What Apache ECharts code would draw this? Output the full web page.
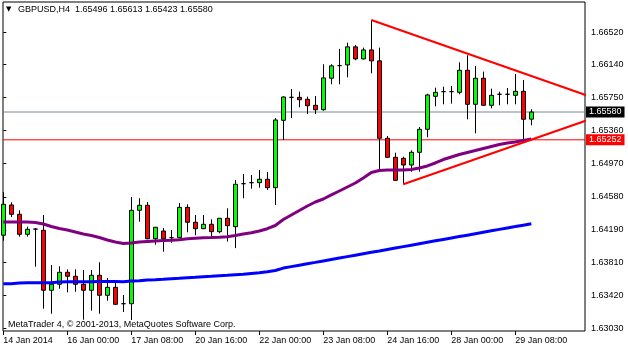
<!DOCTYPE html>
<html><head><meta charset="utf-8">
<script src="https://cdn.jsdelivr.net/npm/echarts@6/dist/echarts.min.js"></script>
<style>html,body{margin:0;padding:0;background:#fff}#c{width:628px;height:350px}</style>
</head><body><div id="c"></div>
<script>
const symbolName = 'GBPUSD,H4';
const copyrightText = 'MetaTrader 4, \u00a9 2001-2013, MetaQuotes Software Corp.';
// H4 bars, index 0 = 14 Jan 2014 16:00
const opens = [
1.64127,1.64484,1.64374,1.64138,1.64199,1.64185,1.63478,1.63549,1.63690,1.63643,
1.63549,1.63478,1.63655,1.63419,1.63513,1.63320,1.63320,1.64421,1.64480,1.64086,
1.64177,1.64098,1.64098,1.64456,1.64280,1.64204,1.64256,1.64169,1.64327,1.64228,
1.64735,1.64747,1.64747,1.64787,1.64688,1.65482,1.65753,1.65753,1.65730,1.65659,
1.65607,1.65978,1.66127,1.66135,1.66348,1.66206,1.66312,1.66183,1.65270,1.65046,
1.65034,1.64955,1.65105,1.65376,1.65765,1.65820,1.65820,1.65812,1.66072,1.65671,
1.65978,1.65659,1.65789,1.65789,1.65777,1.65824,1.65496];
const closes = [
1.64492,1.64374,1.64138,1.64197,1.64199,1.63478,1.63549,1.63690,1.63643,1.63549,
1.63478,1.63655,1.63419,1.63513,1.63313,1.63320,1.64421,1.64480,1.64086,1.64221,
1.64086,1.64098,1.64456,1.64280,1.64204,1.64256,1.64169,1.64327,1.64240,1.64728,
1.64735,1.64747,1.64787,1.64688,1.65486,1.65757,1.65753,1.65725,1.65654,1.65607,
1.65982,1.66124,1.66127,1.66348,1.66206,1.66312,1.66183,1.65270,1.65046,1.64775,
1.64955,1.65105,1.65376,1.65781,1.65812,1.65820,1.65820,1.66072,1.65671,1.65978,
1.65659,1.65777,1.65789,1.65789,1.65824,1.65494,1.65580];
const highs = [
1.64634,1.64515,1.64421,1.64228,1.64212,1.64366,1.63776,1.63761,1.63725,1.63725,
1.63717,1.63717,1.63808,1.63623,1.63567,1.63423,1.64578,1.64563,1.64519,1.64225,
1.64212,1.64189,1.64507,1.64492,1.64366,1.64366,1.64315,1.64330,1.64445,1.64779,
1.64849,1.64837,1.64896,1.64873,1.65509,1.65765,1.65851,1.65820,1.65761,1.65769,
1.66143,1.66143,1.66324,1.66398,1.66371,1.66339,1.66665,1.66339,1.65297,1.65100,
1.65053,1.65128,1.65403,1.65796,1.65867,1.65879,1.65887,1.66166,1.66249,1.66123,
1.66056,1.65855,1.65820,1.65863,1.66028,1.65958,1.65613];
const lows = [
1.64063,1.64342,1.64110,1.64110,1.63756,1.63261,1.63202,1.63497,1.63454,1.63461,
1.63131,1.63238,1.63202,1.63355,1.63305,1.63222,1.63128,1.64287,1.64080,1.64015,
1.63933,1.64039,1.64095,1.64162,1.64127,1.64200,1.64106,1.64150,1.64052,1.63975,
1.64563,1.64676,1.64688,1.64661,1.64484,1.65250,1.65509,1.65636,1.65557,1.65557,
1.65595,1.65907,1.65907,1.65989,1.66190,1.66200,1.66036,1.64896,1.65040,1.64770,
1.64728,1.64876,1.64876,1.65282,1.65647,1.65671,1.65679,1.65789,1.65494,1.65329,
1.65655,1.65624,1.65659,1.65671,1.65671,1.65258,1.65423];
const maPurple = [
1.64283,1.64283,1.64283,1.64283,1.64277,1.64260,1.64230,1.64206,1.64189,1.64165,
1.64142,1.64124,1.64100,1.64071,1.64047,1.64030,1.64036,1.64047,1.64053,1.64059,
1.64065,1.64067,1.64074,1.64086,1.64092,1.64098,1.64100,1.64103,1.64110,1.64124,
1.64142,1.64157,1.64177,1.64204,1.64242,1.64313,1.64366,1.64419,1.64472,1.64519,
1.64554,1.64602,1.64649,1.64696,1.64743,1.64802,1.64867,1.64890,1.64896,1.64896,
1.64896,1.64902,1.64920,1.64944,1.64979,1.65020,1.65050,1.65079,1.65103,1.65126,
1.65150,1.65174,1.65197,1.65215,1.65226,1.65244,1.65262];
const maBlue = [
1.63556,1.63556,1.63564,1.63567,1.63567,1.63567,1.63567,1.63576,1.63579,1.63579,
1.63579,1.63579,1.63582,1.63582,1.63582,1.63579,1.63588,1.63591,1.63599,1.63603,
1.63608,1.63615,1.63619,1.63626,1.63631,1.63638,1.63643,1.63650,1.63655,1.63662,
1.63666,1.63676,1.63685,1.63697,1.63711,1.63740,1.63757,1.63774,1.63791,1.63807,
1.63824,1.63841,1.63858,1.63875,1.63892,1.63909,1.63926,1.63942,1.63959,1.63976,
1.63993,1.64010,1.64027,1.64044,1.64061,1.64078,1.64094,1.64111,1.64128,1.64145,
1.64162,1.64179,1.64196,1.64213,1.64229,1.64246,1.64263];
const xTickIdx = [0,8,16,24,32,40,48,56,64];
const xTickLabels = ['14 Jan 2014','16 Jan 00:00','17 Jan 08:00','20 Jan 16:00','22 Jan 00:00','23 Jan 08:00','24 Jan 16:00','28 Jan 00:00','29 Jan 08:00'];
const yTicks = [1.6303,1.6342,1.6381,1.6419,1.6458,1.6497,1.6536,1.6575,1.6614,1.6652];
const bidPrice = 1.65580;
const levelPrice = 1.65252;
const trendUpper = [[46,1.66665],[74,1.65741]];
const trendLower = [[50,1.64728],[74,1.65516]];
const xRange = [-0.04, 72.71];
const yRange = [1.62998, 1.66877];

const FONT = 'Liberation Sans';
const n = opens.length;
const candleData = opens.map((o,i)=>[i,o,closes[i],lows[i],highs[i]]);
const last = n-1;
const titleText = symbolName + '  ' + [opens[last],highs[last],lows[last],closes[last]].map(v=>v.toFixed(5)).join(' ');

function hLine(price, color, tagBg) {
  return {type:'line', data:[[xRange[0],price],[xRange[1],price]], showSymbol:false, z:2, silent:true,
    lineStyle:{color:color,width:1},
    endLabel:{show:true, formatter:price.toFixed(5), backgroundColor:tagBg, color:'#fff',
      padding:[1,3,1,3], fontSize:9, fontFamily:FONT, distance:1}};
}

const chart = echarts.init(document.getElementById('c'), null, {renderer:'canvas'});
chart.setOption({
  animation:false,
  backgroundColor:'#fff',
  textStyle:{fontFamily:FONT},
  grid:{left:3,right:43,top:2,bottom:19,show:true,borderColor:'#000',borderWidth:1,backgroundColor:'#fff',containLabel:false,outerBoundsMode:'none'},
  xAxis:{type:'value',min:xRange[0],max:xRange[1],
    axisLine:{show:false},splitLine:{show:false},
    axisTick:{show:true,customValues:xTickIdx,length:4,lineStyle:{color:'#000'}},
    axisLabel:{customValues:xTickIdx,formatter:v=>xTickLabels[xTickIdx.indexOf(Math.round(v))]||'',
      align:'left',margin:5,color:'#000',fontSize:9,fontFamily:FONT}},
  yAxis:{type:'value',position:'right',min:yRange[0],max:yRange[1],scale:true,
    axisLine:{show:false},splitLine:{show:false},
    axisTick:{show:true,customValues:yTicks,length:3,lineStyle:{color:'#000'}},
    axisLabel:{customValues:yTicks,formatter:v=>v.toFixed(5),margin:6,color:'#000',fontSize:9,fontFamily:FONT}},
  series:[
    hLine(bidPrice,'#778899','#000'),
    hLine(levelPrice,'#ff0000','#ff0000'),
    {type:'candlestick',data:candleData,encode:{x:0,y:[1,2,3,4]},barWidth:4,z:3,
      itemStyle:{color:'#00ff00',color0:'#ff0000',borderColor:'#000',borderColor0:'#000',borderColorDoji:'#000',borderWidth:1}},
    {type:'line',data:maPurple.map((v,i)=>[i,v]),showSymbol:false,z:4,lineStyle:{color:'#800080',width:3}},
    {type:'line',data:maBlue.map((v,i)=>[i,v]),showSymbol:false,z:4,lineStyle:{color:'#0000ff',width:3}},
    {type:'line',data:trendUpper,showSymbol:false,z:5,clip:true,lineStyle:{color:'#ff0000',width:2}},
    {type:'line',data:trendLower,showSymbol:false,z:5,clip:true,lineStyle:{color:'#ff0000',width:2}}
  ],
  graphic:[
    {type:'text',left:6,top:6,z:10,style:{text:'\u25bc',font:'7px "DejaVu Sans"',fill:'#000'}},
    {type:'text',left:18,top:5,z:10,style:{text:titleText,font:'9px "'+FONT+'"',fill:'#000'}},
    {type:'text',left:8,top:320,z:10,style:{text:copyrightText,font:'9px "'+FONT+'"',fill:'#000'}}
  ]
});
</script></body></html>
